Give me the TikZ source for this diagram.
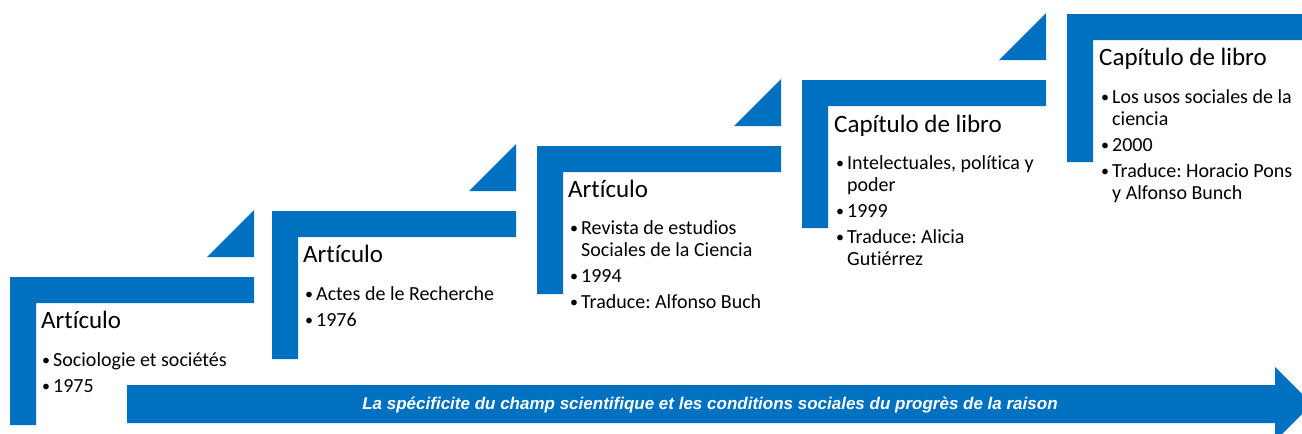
\documentclass[tikz,border=0pt]{standalone}
\usepackage{fontspec}
\setmainfont{Carlito}[Ligatures=NoCommon]
\newfontfamily\bandfont{Liberation Sans}
\definecolor{stepblue}{RGB}{0,112,192}
\newcommand{\bul}[1]{\par\hangindent=11pt\hangafter=1\noindent\makebox[11pt][l]{\raisebox{0.5pt}{\scalebox{0.8}{•}}}#1}
\newcommand{\steptext}[1]{\parbox[t]{260pt}{\fontsize{20}{22}\selectfont\frenchspacing\raggedright\parskip=4pt #1}}
\begin{document}
\begin{tikzpicture}[x=1pt,y=-1pt,
  stepfill/.style={fill=stepblue,draw=none},
  steptitle/.style={anchor=base west,inner sep=0pt,font=\fontsize{25}{28}\selectfont},
  stepbody/.style={anchor=base west,inner sep=0pt},
  bandtext/.style={text=white,inner sep=0pt,anchor=base,font=\bandfont\bfseries\itshape\fontsize{17}{20}\selectfont}]
\useasboundingbox (0,0) rectangle (1302,434);
\clip (0,0) rectangle (1302,434);
% steps: x, T
\foreach \x/\T in {10/277,272/211,537/146,802/80,1067/14}{
  \fill[stepfill] (\x,\T) -- ++(244,0) -- ++(0,26) -- ++(-218,0) -- ++(0,122) -- ++(-26,0) -- cycle;
  \fill[stepfill] (\x+197,\T-20) -- (\x+244,\T-67) -- (\x+244,\T-20) -- cycle;
}
% arrow
\fill[stepfill] (127,385) -- (1275,385) -- (1275,367) -- (1312,404) -- (1275,441) -- (1275,423) -- (127,423) -- cycle;
\node[bandtext] (band) at (710,409) {La spécificite du champ scientifique et les conditions sociales du progrès de la raison};
% texts
\node[steptitle] (t1) at (41,328) {Artículo};
\node[stepbody] (b1) at (42,366) {\steptext{\bul{Sociologie et sociétés}\bul{1975}}};
\node[steptitle] (t2) at (303,262) {Artículo};
\node[stepbody] (b2) at (305,300) {\steptext{\bul{Actes de le Recherche}\bul{1976}}};
\node[steptitle] (t3) at (568,197) {Artículo};
\node[stepbody] (b3) at (570,234) {\steptext{\bul{Revista de estudios\newline Sociales de la Ciencia}\bul{1994}\bul{Traduce: Alfonso Buch}}};
\node[steptitle] (t4) at (834,132) {Capítulo de libro};
\node[stepbody] (b4) at (836,169) {\steptext{\bul{Intelectuales, política y\newline poder}\bul{1999}\bul{Traduce: Alicia\newline Gutiérrez}}};
\node[steptitle] (t5) at (1099,65) {Capítulo de libro};
\node[stepbody] (b5) at (1101,103) {\steptext{\bul{Los usos sociales de la\newline ciencia}\bul{2000}\bul{Traduce: Horacio Pons\newline y Alfonso Bunch}}};
\end{tikzpicture}
\end{document}
